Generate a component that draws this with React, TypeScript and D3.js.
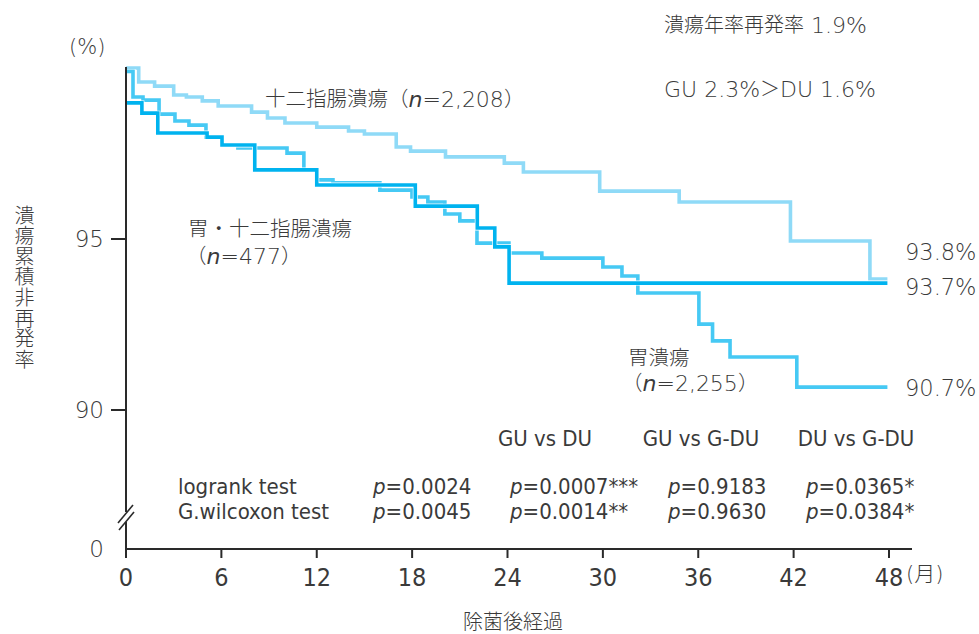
import React from "react";
import * as d3 from "d3";

const xTicks = [0, 6, 12, 18, 24, 30, 36, 42, 48];
const yTicks = [95, 90];

const duMonths = [0, 0.8, 1.8, 3.0, 3.8, 4.8, 5.8, 7.9, 8.9, 10.0, 12.0, 14.0, 15.0, 17.0, 17.9, 20.1, 23.8, 25.0, 29.8, 34.8, 41.8, 46.8, 47.9];
const duValues = [100, 99.59, 99.47, 99.21, 99.15, 99.04, 98.89, 98.71, 98.54, 98.39, 98.27, 98.16, 98.07, 97.69, 97.57, 97.4, 97.22, 96.96, 96.4, 96.08, 94.94, 93.83, 93.83];

const guMonths = [0, 0.44, 1.07, 2.08, 3.08, 3.96, 5.03, 6.04, 7.04, 10.13, 11.19, 12.01, 13.02, 15.97, 17.99, 18.99, 20.06, 21.0, 22.08, 24.09, 26.16, 30.0, 31.2, 32.2, 36.04, 36.9, 38.0, 42.2, 47.9];
const guValues = [99.9, 99.15, 99.06, 98.65, 98.45, 98.33, 97.98, 97.75, 97.66, 97.51, 97.02, 96.73, 96.64, 96.43, 96.23, 96.08, 95.73, 95.53, 94.88, 94.59, 94.44, 94.18, 93.92, 93.42, 92.51, 92.02, 91.55, 90.67, 90.67];

const gduMonths = [0, 1.0, 2.0, 5.1, 6.04, 8.1, 12.0, 18.2, 22.1, 23.2, 24.1, 47.9];
const gduValues = [98.98, 98.68, 98.1, 97.98, 97.75, 97.02, 96.58, 95.96, 95.32, 94.77, 93.71, 93.71];

const compareHeaders = ["GU vs DU", "GU vs G-DU", "DU vs G-DU"];
const testNames = ["logrank test", "G.wilcoxon test"];
const pRows = [
  ["0.0024", "0.0007***", "0.9183", "0.0365*"],
  ["0.0045", "0.0014**", "0.9630", "0.0384*"],
];
const endLabels = ["93.8%", "93.7%", "90.7%"];
const yAxisTitle = "潰瘍累積非再発率";

const JP = "'DejaVu Sans', 'Noto Sans CJK JP', sans-serif";
const NARROW = "'Liberation Sans Narrow', 'DejaVu Sans Condensed', 'Noto Sans CJK JP', sans-serif";
const TXT = "#3a3a3a";
const W = 300;

export default function App() {
  const x = d3.scaleLinear().domain([0, 48]).range([126, 889]);
  const y = d3.scaleLinear().domain([90, 100]).range([410, 68]);
  const zeroY = 549;
  const line = d3
    .line<[number, number]>()
    .x((d) => x(d[0]))
    .y((d) => y(d[1]))
    .curve(d3.curveStepAfter);
  const mk = (ms: number[], vs: number[]) => ms.map((m, i) => [m, vs[i]] as [number, number]);
  const series = [
    { d: mk(duMonths, duValues), c: "#8fdaf7" },
    { d: mk(guMonths, guValues), c: "#46c9f4" },
    { d: mk(gduMonths, gduValues), c: "#00b3ef" },
  ];
  const pX = [373, 510, 668, 806];
  const headerX = [545, 701, 856];
  const nStyle = { fontFamily: "'DejaVu Sans', sans-serif", fontStyle: "italic" as const, fontWeight: 300 };

  return (
    <svg width={979} height={634} style={{ position: "absolute", left: 0, top: 0, background: "#fff" }}>
      <rect width={979} height={634} fill="#fff" />
      {series.map((s, i) => (
        <g key={i}>
          <path d={line(s.d) || ""} fill="none" stroke="#fff" strokeWidth={5} />
          <path d={line(s.d) || ""} fill="none" stroke={s.c} strokeWidth={3.6} />
        </g>
      ))}
      <g stroke="#2a2a2a" strokeWidth={2} fill="none">
        <line x1={126} y1={67} x2={126} y2={512} />
        <line x1={126} y1={522} x2={126} y2={zeroY + 9} />
        <line x1={118} y1={523} x2={133} y2={505} strokeWidth={1.6} />
        <line x1={119} y1={530} x2={134} y2={512} strokeWidth={1.6} />
        <line x1={125} y1={zeroY} x2={912} y2={zeroY} />
        {yTicks.map((t) => (
          <line key={t} x1={111} y1={y(t)} x2={126} y2={y(t)} />
        ))}
        {xTicks.map((t) => (
          <line key={t} x1={x(t)} y1={zeroY} x2={x(t)} y2={zeroY + 9} />
        ))}
      </g>
      <g fill={TXT} fontFamily={JP} fontWeight={W} fontSize={23} textAnchor="end">
        {yTicks.map((t) => (
          <text key={t} x={104} y={y(t)} dominantBaseline="central">
            {t}
          </text>
        ))}
        <text x={104} y={zeroY} dominantBaseline="central">0</text>
      </g>
      <text x={69} y={47} fill={TXT} fontFamily={JP} fontWeight={W} fontSize={21} dominantBaseline="central">
        (%)
      </text>
      <g fill={TXT} fontFamily={NARROW} fontSize={25} textAnchor="middle">
        {xTicks.map((t) => (
          <text key={t} x={x(t)} y={577} dominantBaseline="central">
            {t}
          </text>
        ))}
      </g>
      <text x={906} y={574} fill={TXT} fontFamily={JP} fontWeight={W} fontSize={21} dominantBaseline="central">
        (月)
      </text>
      <text x={513} y={622} fill={TXT} fontFamily={JP} fontWeight={W} fontSize={20} textAnchor="middle" dominantBaseline="central">
        除菌後経過
      </text>
      <text
        x={23}
        y={205}
        fill={TXT}
        fontFamily={JP}
        fontWeight={W}
        fontSize={20}
        letterSpacing={0.6}
        style={{ writingMode: "vertical-rl" }}
      >
        {yAxisTitle}
      </text>
      <g fill={TXT} fontFamily={JP} fontWeight={W} fontSize={20}>
        <text x={664} y={25} dominantBaseline="central">
          潰瘍年率再発率<tspan fontSize={22}> 1.9%</tspan>
        </text>
        <text x={664} y={89} dominantBaseline="central" fontSize={22}>
          GU 2.3%<tspan fontSize={20}>＞</tspan>DU 1.6%
        </text>
      </g>
      <g fill={TXT} fontFamily={JP} fontWeight={W} fontSize={20.5}>
        <text x={265} y={99} dominantBaseline="central">
          十二指腸潰瘍（<tspan fontSize={22} style={nStyle}>n</tspan>
          <tspan fontSize={22}>=2,208</tspan>）
        </text>
        <text x={188} y={229} dominantBaseline="central">胃・十二指腸潰瘍</text>
        <text x={186} y={256} dominantBaseline="central">
          （<tspan fontSize={22} style={nStyle}>n</tspan>
          <tspan fontSize={22}>=477</tspan>）
        </text>
        <text x={628} y={358} dominantBaseline="central">胃潰瘍</text>
        <text x={622} y={383} dominantBaseline="central">
          （<tspan fontSize={22} style={nStyle}>n</tspan>
          <tspan fontSize={22}>=2,255</tspan>）
        </text>
      </g>
      <g fill={TXT} fontFamily={JP} fontWeight={W} fontSize={22.5}>
        <text x={905} y={252} dominantBaseline="central">{endLabels[0]}</text>
        <text x={905} y={287} dominantBaseline="central">{endLabels[1]}</text>
        <text x={905} y={388} dominantBaseline="central">{endLabels[2]}</text>
      </g>
      <g fill={TXT} fontFamily={NARROW} fontSize={22}>
        {compareHeaders.map((h, i) => (
          <text key={h} x={headerX[i]} y={438} textAnchor="middle" dominantBaseline="central">
            {h}
          </text>
        ))}
        {testNames.map((t, r) => (
          <g key={t}>
            <text x={178} y={486 + r * 25} dominantBaseline="central">{t}</text>
            {pRows[r].map((p, c) => (
              <text key={c} x={pX[c]} y={486 + r * 25} dominantBaseline="central">
                <tspan fontStyle="italic">p</tspan>={p}
              </text>
            ))}
          </g>
        ))}
      </g>
    </svg>
  );
}
